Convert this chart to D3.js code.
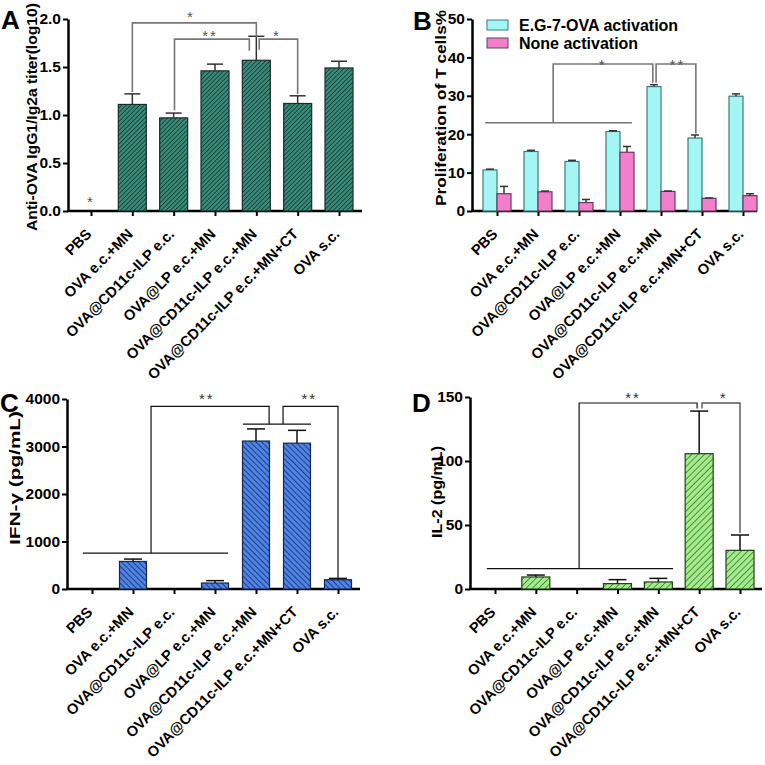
<!DOCTYPE html>
<html>
<head>
<meta charset="utf-8">
<script src="https://cdn.jsdelivr.net/npm/d3@7"></script>
<style>
  body { margin: 0; background: #fff; }
  text { font-family: Arial, "Liberation Sans", sans-serif; }
</style>
</head>
<body>
<svg id="chart" width="765" height="765"></svg>
<script>
const groups = ["PBS", "OVA e.c.+MN", "OVA@CD11c-ILP e.c.", "OVA@LP e.c.+MN",
  "OVA@CD11c-ILP e.c.+MN", "OVA@CD11c-ILP e.c.+MN+CT", "OVA s.c."];

const titerMean = [0, 1.11, 0.97, 1.46, 1.57, 1.12, 1.49];
const titerErr  = [0, 0.11, 0.05, 0.07, 0.25, 0.08, 0.07];

const egMean   = [10.7, 15.5, 12.9, 20.7, 32.4, 19.0, 29.9];
const egErr    = [0.2, 0.3, 0.3, 0.2, 0.5, 0.8, 0.6];
const noneMean = [4.5, 5.0, 2.2, 15.3, 5.1, 3.3, 4.0];
const noneErr  = [1.9, 0.2, 0.8, 1.5, 0.1, 0.1, 0.5];

const ifnMean = [0, 580, 0, 126, 3115, 3070, 195];
const ifnErr  = [0, 50, 0, 50, 255, 270, 28];

const il2Mean = [0, 9.4, 0, 4.2, 5.5, 105.7, 30.2];
const il2Err  = [0, 1.5, 0, 3.1, 2.8, 33.3, 12];

const legendNames = ["E.G-7-OVA activation", "None activation"];

const svg = d3.select("#chart");
const defs = svg.append("defs");

function hatch(id, base, line, size, w, angle) {
  const p = defs.append("pattern")
    .attr("id", id)
    .attr("patternUnits", "userSpaceOnUse")
    .attr("width", size).attr("height", size)
    .attr("patternTransform", `rotate(${angle})`);
  p.append("rect").attr("width", size).attr("height", size).attr("fill", base);
  p.append("line").attr("x1", 0).attr("y1", 0).attr("x2", 0).attr("y2", size)
    .attr("stroke", line).attr("stroke-width", w);
}
hatch("hA", "#3a8a7a", "#153a33", 3.2, 1.6, 45);
hatch("hC", "#4d84e6", "#19296a", 4, 1.6, -45);
hatch("hD", "#a2ec8c", "#2c5a22", 4.5, 1.3, 45);

// one panel: axes + ticks, returns scales
function panel(o) {
  const g = svg.append("g");
  const step = (o.t1 - o.t0) / (groups.length - 1);
  const x = i => o.t0 + i * step;
  const xs = d3.scalePoint().domain(groups).range([o.t0, o.t1]);
  const y = d3.scaleLinear().domain(o.domain).range([o.y0, o.y1]);

  const yAxis = d3.axisLeft(y).tickValues(o.ticks).tickFormat(o.fmt)
    .tickSize(5).tickSizeOuter(0);
  const ya = g.append("g").attr("transform", `translate(${o.x0},0)`).call(yAxis);
  ya.select(".domain").attr("stroke-width", 2.5);
  ya.selectAll(".tick line").attr("stroke-width", 2);
  ya.selectAll(".tick text").attr("font-size", 15.5).attr("font-weight", "bold")
    .attr("fill", "#000").attr("x", -7);

  const xAxis = d3.axisBottom(xs).tickSize(5).tickSizeOuter(0);
  const xa = g.append("g").attr("transform", `translate(0,${o.y0})`).call(xAxis);
  xa.select(".domain").remove();
  xa.selectAll(".tick line").attr("stroke-width", 2);
  xa.selectAll(".tick text")
    .attr("font-size", 14.7).attr("font-weight", "bold").attr("fill", "#000")
    .attr("text-anchor", "end").attr("dy", 0).attr("y", 0)
    .attr("transform", "translate(1,24) rotate(-45)");
  g.append("line").attr("x1", o.x0 - 1).attr("x2", o.x1)
    .attr("y1", o.y0).attr("y2", o.y0).attr("stroke", "#000").attr("stroke-width", 2.5);

  g.append("text").attr("x", o.lx).attr("y", o.ly)
    .attr("font-size", 26).attr("font-weight", "bold").text(o.letter);

  g.append("text")
    .attr("transform", `translate(${o.tx},${o.ty}) rotate(-90)`)
    .attr("text-anchor", "middle").attr("font-size", 15.5).attr("font-weight", "bold")
    .attr("textLength", o.tlen).attr("lengthAdjust", "spacingAndGlyphs")
    .text(o.title);
  return { g, x, y, step };
}

function bars(p, mean, err, off, w, fill, stroke, cap, ecol) {
  const bg = p.g.append("g");
  mean.forEach((m, i) => {
    if (m <= 0) return;
    bg.append("rect")
      .attr("x", p.x(i) + off - w / 2).attr("y", p.y(m)).attr("width", w)
      .attr("height", p.y(0) - p.y(m))
      .attr("fill", fill).attr("stroke", stroke).attr("stroke-width", 1.2);
  });
  const eg = p.g.append("g").attr("stroke", ecol).attr("stroke-width", 1.5);
  mean.forEach((m, i) => {
    if (m <= 0) return;
    const cx = p.x(i) + off, top = p.y(m + err[i]);
    eg.append("line").attr("x1", cx).attr("x2", cx).attr("y1", p.y(m)).attr("y2", top);
    eg.append("line").attr("x1", cx - cap).attr("x2", cx + cap).attr("y1", top).attr("y2", top);
  });
}

// bracket: points in [category index, value]
function bracket(p, pts, col, w) {
  const line = d3.line().x(d => p.x(d[0])).y(d => p.y(d[1]));
  p.g.append("path").attr("d", line(pts)).attr("fill", "none")
    .attr("stroke", col).attr("stroke-width", w);
}
function star(p, i, v, s, col) {
  p.g.append("text").attr("x", p.x(i)).attr("y", p.y(v)).attr("text-anchor", "middle")
    .attr("font-size", 15).attr("fill", col).attr("letter-spacing", 2).text(s);
}

// ---- A
const pA = panel({ x0: 68, x1: 362, t0: 91, t1: 339, y0: 211, y1: 19, domain: [0, 2],
  ticks: [0, 0.5, 1, 1.5, 2], fmt: d3.format(".1f"), letter: "A", lx: 1, ly: 29,
  title: "Anti-OVA IgG1/Ig2a titer(log10)", tx: 37, ty: 117, tlen: 228 });
bars(pA, titerMean, titerErr, 0, 28, "url(#hA)", "#1d2b28", 8, "#333");
star(pA, 0, 0.04, "*", "#555");
bracket(pA, [[1, 1.24], [1, 1.96], [4, 1.96], [4, 1.81]], "#777", 1.6);
bracket(pA, [[2.02, 1.05], [2.02, 1.79], [3.83, 1.79], [3.83, 1.67]], "#777", 1.6);
bracket(pA, [[4.07, 1.68], [4.07, 1.79], [5, 1.79], [5, 1.22]], "#777", 1.6);
star(pA, 2.42, 1.97, "*", "#555");
star(pA, 2.88, 1.77, "**", "#555");
star(pA, 4.5, 1.77, "*", "#555");

// ---- B
const pB = panel({ x0: 472, x1: 757, t0: 497, t1: 743, y0: 211, y1: 19, domain: [0, 50],
  ticks: [0, 10, 20, 30, 40, 50], fmt: d3.format("d"), letter: "B", lx: 413, ly: 30,
  title: "Proliferation of T cells%", tx: 446, ty: 108, tlen: 196 });
bars(pB, egMean, egErr, -7, 14, "#a4f6f4", "#3c7b7b", 4, "#333");
bars(pB, noneMean, noneErr, 7, 14, "#f27fcc", "#6b3b5a", 4, "#333");
bracket(pB, [[-0.29, 23], [3.29, 23]], "#777", 1.6);
bracket(pB, [[1.37, 23], [1.37, 38.3], [3.8, 38.3], [3.8, 33.4]], "#777", 1.6);
bracket(pB, [[3.88, 33.4], [3.88, 38.3], [4.85, 38.3], [4.85, 20.2]], "#777", 1.6);
star(pB, 2.58, 36.6, "*", "#555");
star(pB, 4.4, 36.6, "**", "#555");
const lg = pB.g.append("g");
legendNames.forEach((n, i) => {
  lg.append("rect").attr("x", 487).attr("y", 20 + i * 18).attr("width", 21).attr("height", 10)
    .attr("fill", i ? "#f27fcc" : "#a4f6f4").attr("stroke", i ? "#6b3b5a" : "#3c7b7b");
  lg.append("text").attr("x", 519).attr("y", 30.5 + i * 18).attr("font-size", 16)
    .attr("font-weight", "bold").text(n);
});

// ---- C
const pC = panel({ x0: 67, x1: 360, t0: 92, t1: 338, y0: 589, y1: 399, domain: [0, 4000],
  ticks: [0, 1000, 2000, 3000, 4000], fmt: d3.format("d"), letter: "C", lx: 0, ly: 412,
  title: "IFN-γ (pg/mL)", tx: 20, ty: 478, tlen: 134 });
bars(pC, ifnMean, ifnErr, 0, 27, "url(#hC)", "#16264f", 9, "#111");
bracket(pC, [[-0.22, 755], [3.32, 755]], "#111", 1.2);
bracket(pC, [[1.44, 755], [1.44, 3846], [4.32, 3846], [4.32, 3470]], "#111", 1.2);
bracket(pC, [[3.68, 3470], [5.34, 3470]], "#111", 1.2);
bracket(pC, [[4.66, 3470], [4.66, 3846], [6, 3846], [6, 230]], "#111", 1.2);
star(pC, 2.8, 3885, "**", "#333");
star(pC, 5.3, 3885, "**", "#333");

// ---- D
const pD = panel({ x0: 470, x1: 762, t0: 495, t1: 740, y0: 589, y1: 397, domain: [0, 150],
  ticks: [0, 50, 100, 150], fmt: d3.format("d"), letter: "D", lx: 412, ly: 412,
  title: "IL-2 (pg/mL)", tx: 442, ty: 492, tlen: 92 });
bars(pD, il2Mean, il2Err, 0, 28, "url(#hD)", "#22401b", 9, "#111");
bracket(pD, [[-0.2, 15.9], [4.36, 15.9]], "#111", 1.2);
bracket(pD, [[2.06, 15.9], [2.06, 145.3], [4.95, 145.3], [4.95, 141]], "#111", 1.2);
bracket(pD, [[5.07, 141], [5.07, 145.3], [6, 145.3], [6, 43.7]], "#555", 1.4);
star(pD, 3.38, 145.5, "**", "#333");
star(pD, 5.6, 145.5, "*", "#333");
</script>
</body>
</html>
